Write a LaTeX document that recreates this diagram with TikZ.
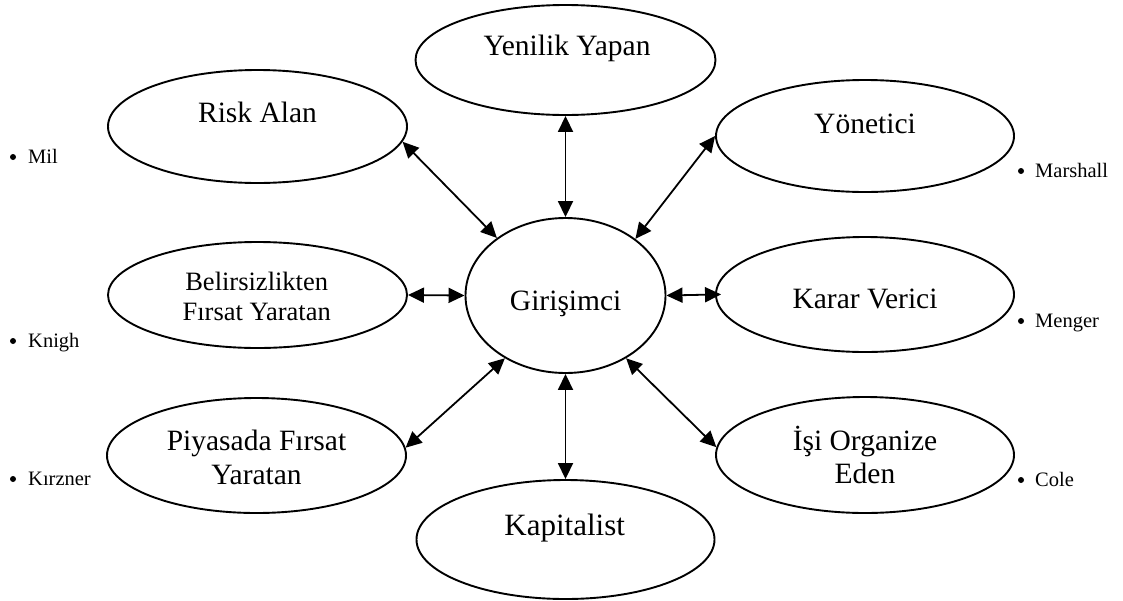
\documentclass[tikz,border=0pt]{standalone}
\usepackage{fontspec}
\setmainfont{Liberation Serif}
\usetikzlibrary{shapes.geometric,arrows.meta}
\begin{document}
\begin{tikzpicture}[x=1pt,y=-1pt,
  ell/.style n args={2}{draw, ellipse, line width=1.9pt, inner sep=0pt,
    minimum width=#1pt, minimum height=#2pt},
  conn/.style={{Triangle[length=16pt,width=15pt]}-{Triangle[length=16pt,width=15pt]}, line width=1.8pt},
  lbl/.style={anchor=base, inner sep=0pt, font=\fontsize{29.5}{34}\selectfont},
  lblsm/.style={anchor=base, inner sep=0pt, font=\fontsize{26.5}{31}\selectfont},
  lblbig/.style={anchor=base, inner sep=0pt, font=\fontsize{31}{36}\selectfont},
  bul/.style={anchor=base west, inner sep=0pt, font=\fontsize{20.5}{24}\selectfont},
  dot/.style={circle, fill, inner sep=0pt, minimum size=6pt}]
\useasboundingbox (0,0) rectangle (1123,600);

% ellipses
\node[ell={300}{110}] (yen) at (565.5,60) {};
\node[ell={299}{113}] (risk) at (257.5,126.5) {};
\node[ell={298}{112}] (yon) at (865,136) {};
\node[ell={299}{106}] (bel) at (257.5,295) {};
\node[ell={200}{155}] (gir) at (565.5,295.5) {};
\node[ell={298}{115}] (kar) at (865,294.5) {};
\node[ell={299}{115}] (piy) at (256.5,455.5) {};
\node[ell={298}{116}] (isi) at (865,455) {};
\node[ell={298}{119}] (kap) at (565.5,539.5) {};

% texts
\node[lbl] (yen-t) at (567,55) {Yenilik Yapan};
\node[lbl] (risk-t) at (257.5,122) {Risk Alan};
\node[lbl] (yon-t) at (865,133) {Yönetici};
\node[lblsm] (bel-t1) at (256.7,290) {Belirsizlikten};
\node[lblsm] (bel-t2) at (256.7,320) {Fırsat Yaratan};
\node[lbl] (gir-t) at (565.7,310) {Girişimci};
\node[lbl] (kar-t) at (865,308) {Karar Verici};
\node[lbl] (piy-t1) at (256.5,450) {Piyasada Fırsat};
\node[lbl] (piy-t2) at (256.5,484) {Yaratan};
\node[lbl] (isi-t1) at (865,450) {İşi Organize};
\node[lbl] (isi-t2) at (865,483) {Eden};
\node[lblbig] (kap-t) at (564.7,535) {Kapitalist};

% bullet notes
\node[dot] (mil-d) at (13,157) {};
\node[bul] (mil) at (28,163) {Mil};
\node[dot] (knigh-d) at (13,341) {};
\node[bul] (knigh) at (28,347) {Knigh};
\node[dot] (kirzner-d) at (13,479) {};
\node[bul] (kirzner) at (28,485) {Kırzner};
\node[dot] (marshall-d) at (1021,171) {};
\node[bul] (marshall) at (1035,177) {Marshall};
\node[dot] (menger-d) at (1021,321) {};
\node[bul] (menger) at (1035,327) {Menger};
\node[dot] (cole-d) at (1021,480) {};
\node[bul] (cole) at (1035,486) {Cole};

% connectors
\draw[conn] (risk.-6) -- (gir.140);
\draw[conn] (yen.south) -- (gir.north);
\draw[conn] (gir.39) -- (yon.180);
\draw[conn] (bel.east) -- (gir.west);
\draw[conn, shorten >=-6pt] (gir.east) -- (kar.west);
\draw[conn] (piy.3) -- (gir.-134);
\draw[conn] (gir.south) -- (kap.north);
\draw[conn] (gir.-46) -- (isi.177);
\end{tikzpicture}
\end{document}
